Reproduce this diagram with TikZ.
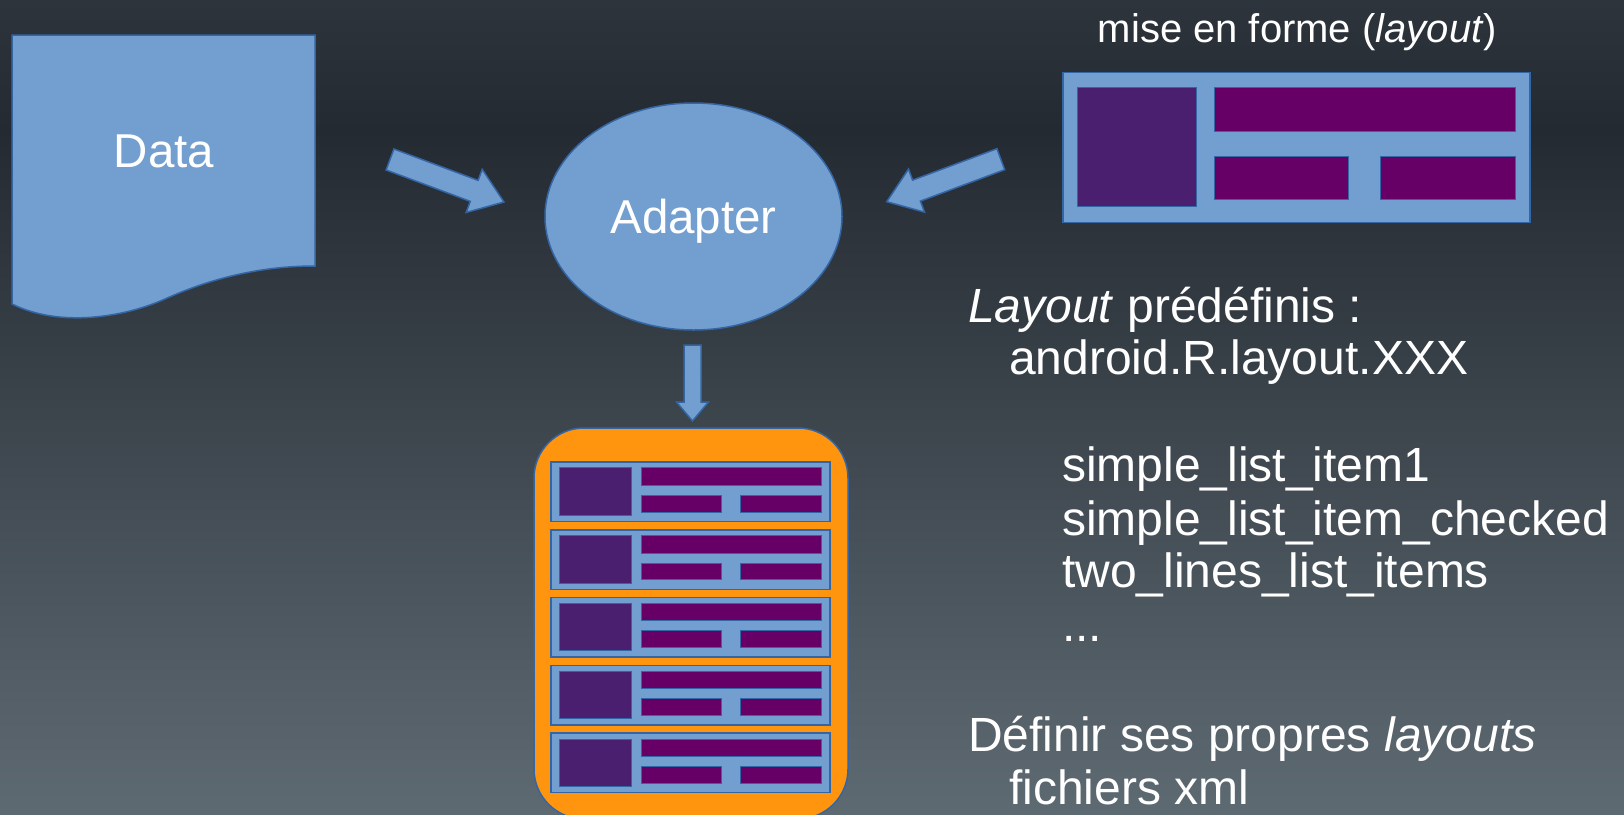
\documentclass[tikz,border=0pt]{standalone}
\usepackage{fontspec}
\setmainfont{Liberation Sans}
\usetikzlibrary{shapes.geometric, calc}

\definecolor{bgtop}{HTML}{2E343C}
\definecolor{bgdark}{HTML}{242A31}
\definecolor{bgbot}{HTML}{5E6A72}
\definecolor{shapeblue}{HTML}{729FCF}
\definecolor{edgeblue}{HTML}{3465A4}
\definecolor{listorange}{HTML}{FF950E}
\definecolor{iconpurple}{HTML}{4B1F6F}
\definecolor{barpurple}{HTML}{660066}

% one list item: left, top, width, height
\newcommand{\itemrow}[4]{%
  \begin{scope}[shift={(#1,#2)}, x=#3pt, y=-#4pt]
    \draw[rowbox] (0,0) rectangle (1,1);
    \draw[iconbox] (0.031,0.1) rectangle (0.287,0.895);
    \draw[barbox] (0.324,0.1) rectangle (0.969,0.393);
    \draw[barbox] (0.324,0.56) rectangle (0.612,0.843);
    \draw[barbox] (0.68,0.56) rectangle (0.969,0.843);
  \end{scope}}

% block arrow: tail, tip, shaft half width, head half width, head length
\newcommand{\blockarrow}[5]{%
  \coordinate (bh) at ($(#2)!#5!(#1)$);
  \draw[arrowshape] ($(#1)!#3!90:(#2)$) -- ($(bh)!#3!-90:(#1)$) -- ($(bh)!#4!-90:(#1)$)
    -- (#2) -- ($(bh)!#4!90:(#1)$) -- ($(bh)!#3!90:(#1)$) -- ($(#1)!#3!-90:(#2)$) -- cycle;}

\begin{document}
\begin{tikzpicture}[
    x=1pt, y=-1pt,
    txt/.style={text=white, inner sep=0pt, font=\fontsize{47.5}{57}\selectfont},
    sidetxt/.style={text=white, inner sep=0pt, anchor=base west, font=\fontsize{48}{57}\selectfont},
    smalltxt/.style={text=white, inner sep=0pt, font=\fontsize{40}{48}\selectfont},
    shapebox/.style={draw=edgeblue, fill=shapeblue, line width=1.5pt},
    arrowshape/.style={draw=edgeblue, fill=shapeblue, line width=1.5pt, line join=miter},
    listbox/.style={draw=edgeblue, fill=listorange, line width=1.5pt, rounded corners=50pt},
    rowbox/.style={draw=edgeblue, fill=shapeblue, line width=1.5pt},
    iconbox/.style={draw=edgeblue, fill=iconpurple, line width=1pt},
    barbox/.style={draw=edgeblue, fill=barpurple, line width=1pt}
  ]

  % Background
  \useasboundingbox (0,0) rectangle (1624,814);
  \clip (0,0) rectangle (1624,814);
  \shade[top color=bgtop, bottom color=bgdark] (0,0) rectangle (1624,131);
  \shade[top color=bgdark, bottom color=bgbot] (0,130) rectangle (1624,814);

  % Data
  \draw[shapebox] (12,35) -- (315,35) -- (315,266)
    .. controls (255,266) and (205,281) .. (165,299)
    .. controls (125,317) and (60,328) .. (12,304) -- cycle;
  \node[txt, anchor=base] (data) at (164,167) {Data};

  % Adapter
  \node[shapebox, ellipse, txt, text depth=0pt, minimum width=297pt, minimum height=227pt] (adapter) at (693.5,216.5) {Adapter};

  % List view
  \node[listbox, minimum width=314pt, minimum height=391pt] (listview) at (691,623.5) {};
  \foreach \i in {0,...,4}
    {\itemrow{551}{462+67.8*\i}{279}{59.5}}

  % Layout
  \node[smalltxt, anchor=base west] (layoutlabel) at (1097.6,42) {mise en forme (\textit{layout})};
  \itemrow{1062.8}{72.7}{467}{150}

  % Arrows
  \coordinate (dataTail) at (390,159.5);
  \coordinate (dataTip) at (504,202);
  \coordinate (layoutTail) at (1000.8,159.2);
  \coordinate (layoutTip) at (886.7,201.7);
  \coordinate (listTail) at (692.5,345);
  \coordinate (listTip) at (692.5,421);
  \blockarrow{dataTail}{dataTip}{11.2pt}{23pt}{31.8pt}
  \blockarrow{layoutTail}{layoutTip}{11.2pt}{23pt}{31.8pt}
  \blockarrow{listTail}{listTip}{8.5pt}{16pt}{19pt}

  % Predefined layouts
  \node[sidetxt] (predef) at (968,322) {\textit{Layout} prédéfinis :};
  \node[sidetxt] (rclass) at (1009,374) {android.R.layout.XXX};
  \node[sidetxt] (item1) at (1062,481) {simple\_list\_item1};
  \node[sidetxt] (itemchecked) at (1062,535.5) {simple\_list\_item\_checked};
  \node[sidetxt] (twolines) at (1062,587.5) {two\_lines\_list\_items};
  \node[sidetxt] (dots) at (1062,641) {...};

  % Own layouts
  \node[sidetxt] (own) at (968,751) {Définir ses propres \textit{layouts}};
  \node[sidetxt] (xml) at (1009,804) {fichiers xml};

\end{tikzpicture}
\end{document}
